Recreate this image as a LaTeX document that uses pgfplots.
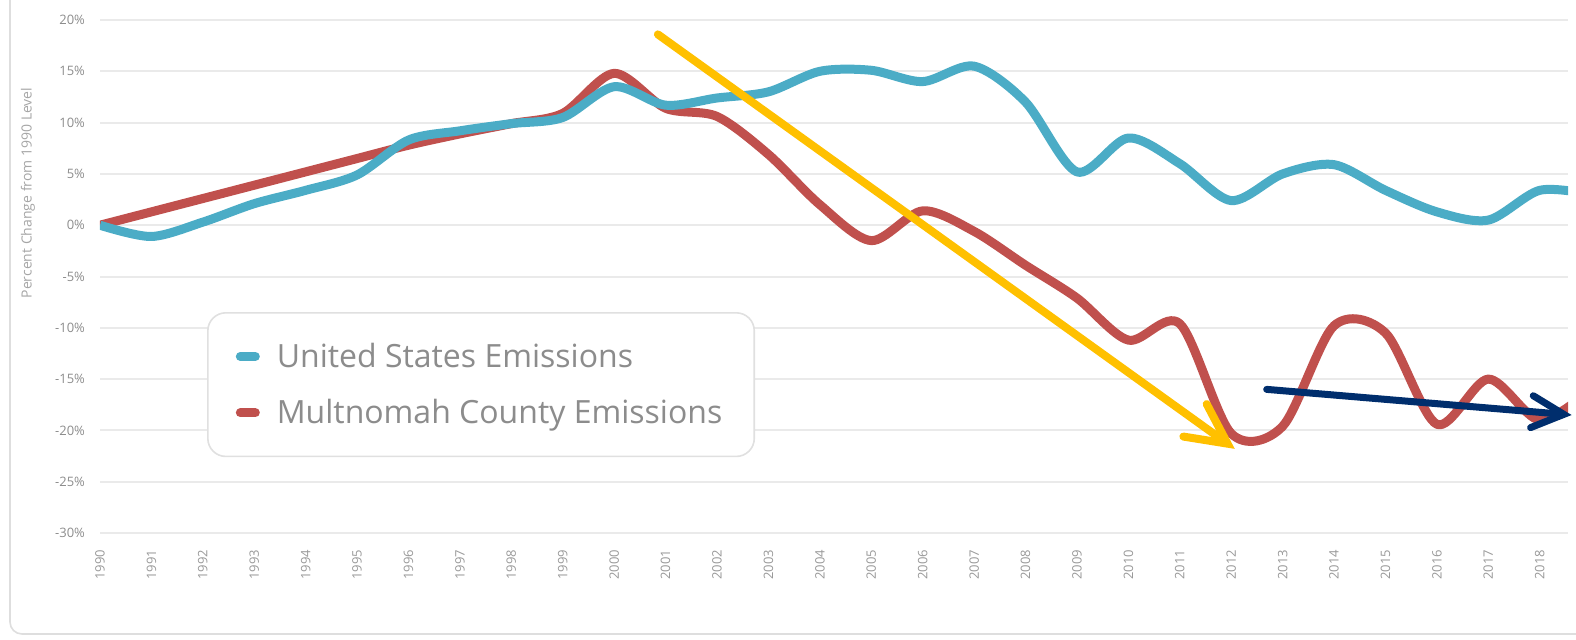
\documentclass[border=0pt]{standalone}
\usepackage{fontspec}
\setmainfont{Open Sans}
\usepackage{pgfplots}
\pgfplotsset{compat=1.18}
\usetikzlibrary{arrows.meta}
\definecolor{usblue}{HTML}{4BACC6}
\definecolor{mcred}{HTML}{C0504D}
\definecolor{arrowgold}{HTML}{FFC000}
\definecolor{arrownavy}{HTML}{002E6D}
\definecolor{gridgray}{HTML}{EAEAEA}
\definecolor{labelgray}{HTML}{8C8C8C}
\begin{document}
\begin{tikzpicture}
\path[use as bounding box] (-50pt,-53pt) rectangle (738pt,266.5pt);
\draw[draw=black!13, line width=0.8pt, rounded corners=6pt] (-45pt,-50.5pt) rectangle (760pt,290pt);
\begin{axis}[
  scale only axis, width=734pt, height=256.5pt,
  at={(0,0)}, anchor=south west,
  xmin=1990, xmax=2018.55, ymin=-30, ymax=20,
  axis line style={draw=none},
  tick style={draw=none},
  ymajorgrids, grid style={gridgray, line width=1pt},
  xtick={1990,1991,...,2018},
  ytick={-30,-25,...,20},
  yticklabels={-30\%,-25\%,-20\%,-15\%,-10\%,-5\%,0\%,5\%,10\%,15\%,20\%},
  /pgf/number format/assume math mode=true,
  /pgf/number format/1000 sep={},
  xticklabel shift=5pt,
  yticklabel shift=4pt,
  xticklabel style={rotate=90, anchor=east, font=\fontsize{6.5}{7}\selectfont, text=black!40},
  yticklabel style={font=\fontsize{6.5}{7}\selectfont, text=labelgray},
  clip mode=individual,
  reverse legend,
  legend cell align=left,
  legend image code/.code={\draw[#1, line width=4.5pt, line cap=round] (0pt,0pt) -- (7.5pt,0pt);\path (14pt,0pt);},
  legend style={at={(0.0729,0.4308)}, anchor=north west, draw=black!12, line width=0.8pt,
    rounded corners=9pt, fill=white, font=\fontsize{16}{18}\selectfont, text=labelgray,
    inner xsep=14pt, inner ysep=13pt, row sep=10.5pt},
]
\addplot[mcred, line width=4.5pt, smooth, line join=round] coordinates {
(1990,0) (1991,1.3) (1992,2.6) (1993,3.9) (1994,5.2) (1995,6.5) (1996,7.8) (1997,8.9)
(1998,9.9) (1999,10.9) (2000,14.8) (2001,11.4) (2002,10.6) (2003,6.9) (2004,2.0)
(2005,-1.5) (2006,1.4) (2007,-0.6) (2008,-3.9) (2009,-7.1) (2010,-11.2) (2011,-9.6)
(2012,-20.3) (2013,-19.6) (2014,-9.8) (2015,-10.5) (2016,-19.4) (2017,-15.0)
(2018,-19.0) (2019,-16.0)};
\addlegendentry{Multnomah County Emissions}
\addplot[usblue, line width=4.5pt, smooth, line join=round] coordinates {
(1990,0) (1991,-1.1) (1992,0.3) (1993,2.1) (1994,3.4) (1995,4.9) (1996,8.3) (1997,9.2)
(1998,9.9) (1999,10.5) (2000,13.5) (2001,11.7) (2002,12.4) (2003,13.0) (2004,15.0)
(2005,15.1) (2006,14.0) (2007,15.5) (2008,12.0) (2009,5.2) (2010,8.5) (2011,6.0)
(2012,2.4) (2013,5.0) (2014,5.9) (2015,3.4) (2016,1.3) (2017,0.5) (2018,3.4) (2019,3.0)};
\addlegendentry{United States Emissions}
\draw[arrowgold, line width=4pt, line cap=round, -{Straight Barb[length=20pt, width=20pt, line cap=round]}]
  (axis cs:2000.85,18.6) -- (axis cs:2012.07,-21.8);
\draw[arrownavy, line width=3.5pt, line cap=round, -{Straight Barb[length=16pt, width=16pt, line cap=round]}]
  (axis cs:2012.69,-16.0) -- (axis cs:2018.62,-18.5);
\end{axis}
\node[rotate=90, font=\fontsize{7}{8}\selectfont, text=black!35] at (-36pt,170pt) {Percent Change from 1990 Level};
\end{tikzpicture}
\end{document}
